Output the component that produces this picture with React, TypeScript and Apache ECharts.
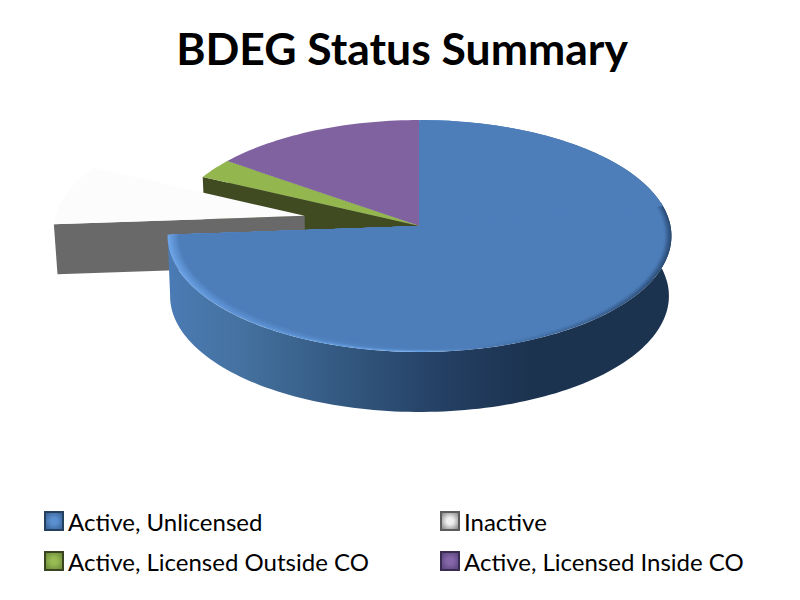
import React, { useEffect, useRef } from "react";
import * as echarts from "echarts";

// Data (share of the pie, %), clockwise from 12 o'clock
const categories = ["Active, Unlicensed", "Inactive", "Active, Licensed Outside CO", "Active, Licensed Inside CO"];
const shares = [73.8, 8.5, 2.8, 14.9];
const titleText = "BDEG Status Summary";

// Geometry of the 3D projection
const CX = 419.5, CY = 226, A = 251, B = 115.1, K = 0.0862;
const BASE_SCALE = 0.99;
const DEPTHS = [60, 50, 50, 50];
const EXPLODE = [0, 0.47, 0, 0];
const TOP_COLORS = ["#4D7EBA", "#FCFCFC", "#93B64F", "#8062A0"];
const WALL_COLORS = ["#3E6491", "#696969", "#414B22", "#4A3A60"];
const LEGEND_COLORS: [string, string, string][] = [
  ["#5A8FD0", "#3A6296", "#24405F"],
  ["#F0F0F0", "#8C8C8C", "#5C5C5C"],
  ["#97BA52", "#6C8A3A", "#3A451F"],
  ["#8566A8", "#5C4680", "#3A2C50"],
];
const LEGEND_POS: [number, number][] = [[44, 509], [440, 509], [44, 549], [440, 549]];

const total = shares.reduce((s, v) => s + v, 0);
const starts: number[] = [];
shares.reduce((acc, v, i) => { starts[i] = acc; return acc + (v / total) * 360; }, 0);
const ends = shares.map((v, i) => starts[i] + (v / total) * 360);

const rad = (d: number) => (d * Math.PI) / 180;
function project(u: number, v: number, base: boolean, depth: number): number[] {
  const w = 1 - K * v;
  const s = base ? BASE_SCALE : 1;
  return [CX + (A * s * u) / w, CY + (B * v) / w + (base ? depth : 0)];
}
function rimPoint(i: number, deg: number, r: number, base: boolean) {
  const mid = rad((starts[i] + ends[i]) / 2);
  const ox = EXPLODE[i] * Math.sin(mid), oy = -EXPLODE[i] * Math.cos(mid);
  return project(ox + r * Math.sin(rad(deg)), oy - r * Math.cos(rad(deg)), base, DEPTHS[i]);
}
function apex(i: number, base: boolean) {
  return rimPoint(i, starts[i], 0, base);
}
function arc(i: number, from: number, to: number, r: number, base: boolean) {
  const pts: number[][] = [];
  const n = Math.max(2, Math.ceil(Math.abs(to - from) / 1.5));
  for (let k = 0; k <= n; k++) pts.push(rimPoint(i, from + ((to - from) * k) / n, r, base));
  return pts;
}
const G = (stops: [number, string][]) =>
  new echarts.graphic.LinearGradient(0, 0, 1, 0, stops.map(([offset, color]) => ({ offset, color })));

function mix(c1: string, c2: string, t: number) {
  const p = (c: string) => [1, 3, 5].map((j) => parseInt(c.slice(j, j + 2), 16));
  const a = p(c1), b = p(c2);
  return `rgb(${a.map((x, j) => Math.round(x + (b[j] - x) * t)).join(",")})`;
}
const poly = (points: number[][], fill: any) => ({ type: "polygon", silent: true, shape: { points }, style: { fill } });

function sliceChildren(i: number) {
  const children: any[] = [];
  const s = starts[i], e = ends[i];
  if (i === 0) {
    // curved outer wall of the big slice
    const from = 78;
    const top = arc(i, from, e, 1, false);
    const bot = arc(i, from, e, 1, true).reverse();
    children.push(poly([...top, ...bot], G([
      [0, "#4B7BB5"], [0.15, "#44719F"], [0.35, "#335880"], [0.55, "#243F63"],
      [0.72, "#1C3350"], [1, "#1C3350"],
    ])));
    // bevelled top face
    const rims = [1, 0.994, 0.988, 0.982, 0.976, 0.97, 0.964, 0.958];
    rims.forEach((r, j) => {
      const t = j / (rims.length - 1);
      const right = mix("#2A4C76", TOP_COLORS[0], Math.min(1, t * 1.6));
      children.push(poly([apex(i, false), ...arc(i, s, e, r, false)], G([
        [0, mix("#6EA6EA", TOP_COLORS[0], t)],
        [0.12, mix("#5F95D8", TOP_COLORS[0], t)],
        [0.5, mix("#66A0E4", TOP_COLORS[0], Math.min(1, t * 2.5))],
        [0.6, TOP_COLORS[0]],
        [1, right],
      ])));
    });
    children.push(poly([apex(i, false), ...arc(i, s, 80, 1, false)], TOP_COLORS[0]));
  } else {
    // radial wall on the clockwise-start side of the slice
    const a0 = apex(i, false), a1 = rimPoint(i, s, 1, false), b1 = rimPoint(i, s, 1, true), b0 = apex(i, true);
    children.push(poly([a0, a1, b1, b0], WALL_COLORS[i]));
    children.push(poly([apex(i, false), ...arc(i, s, e, 1, false)], TOP_COLORS[i]));
  }
  return children;
}

const drawOrder = [3, 2, 1, 0];

export default function App() {
  const ref = useRef<HTMLDivElement>(null);
  useEffect(() => {
    document.body.style.margin = "0";
    const chart = echarts.init(ref.current!, undefined, { renderer: "svg" });
    chart.setOption({
      animation: false,
      backgroundColor: "#fff",
      title: {
        text: titleText, left: 397, top: 20, textAlign: "center",
        textStyle: { fontFamily: "Lato", fontWeight: "bold", fontSize: 44.5, color: "#000" },
      },
      legend: categories.map((name, i) => ({
        left: LEGEND_POS[i][0], top: LEGEND_POS[i][1], padding: 0, itemWidth: 18, itemHeight: 18, itemGap: 5, selectedMode: false,
        textStyle: { fontFamily: "Lato", fontSize: 24, color: "#000" },
        data: [{
          name, icon: "rect",
          itemStyle: {
            color: {
              type: "radial", x: 0.5, y: 0.5, r: 0.6,
              colorStops: [
                { offset: 0, color: LEGEND_COLORS[i][0] },
                { offset: 0.3, color: LEGEND_COLORS[i][0] },
                { offset: 1, color: LEGEND_COLORS[i][1] },
              ],
            },
            borderColor: LEGEND_COLORS[i][2],
            borderWidth: 2,
          },
        }],
      })),
      series: drawOrder.map((i) => ({
        type: "custom",
        name: categories[i],
        coordinateSystem: "none",
        data: [shares[i]],
        itemStyle: { color: TOP_COLORS[i] },
        renderItem: () => ({ type: "group", children: sliceChildren(i) }),
      })),
    });
    return () => chart.dispose();
  }, []);
  return <div ref={ref} style={{ position: "absolute", left: 0, top: 0, width: 800, height: 600 }} />;
}
